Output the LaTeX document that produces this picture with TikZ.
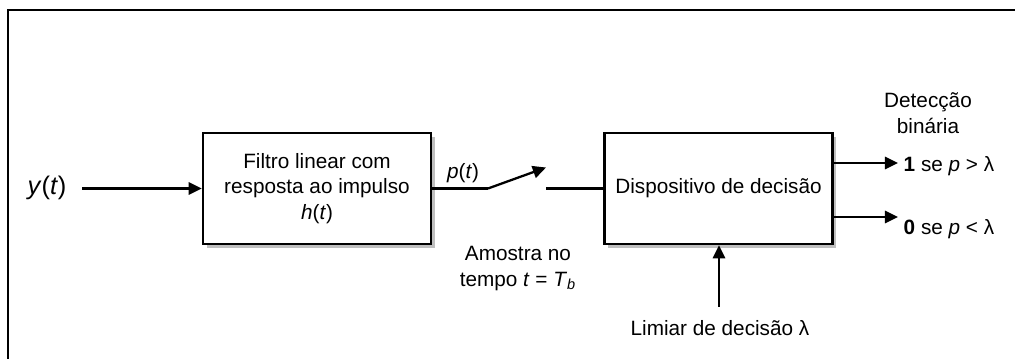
\documentclass[tikz,border=0pt]{standalone}
\usepackage{fontspec}
\setmainfont{Liberation Sans}
\usetikzlibrary{arrows.meta,shadows}

\begin{document}
\begin{tikzpicture}[font=\fontsize{11.8}{14.7}\selectfont,
    bloco/.style={draw,line width=1.3pt,fill=white,align=center,
      minimum width=4.56cm,minimum height=2.22cm,
      drop shadow={shadow xshift=0.07cm,shadow yshift=-0.08cm,opacity=0.5}},
    seta/.style={line width=1.3pt,-{Triangle[length=7.5pt,width=7pt]}},
    linha/.style={line width=1.3pt}]
  \useasboundingbox (0,0) rectangle (20.3,7.16);
  % moldura
  \draw[line width=1.3pt] (0.16,-0.5) -- (0.16,6.96) -- (20.8,6.96);

  \node[bloco] (f) at (6.34,3.39) {Filtro linear com\\resposta ao impulso\\\textit{h}(\textit{t})};
  \node[bloco] (d) at (14.37,3.39) {Dispositivo de decisão};

  \node (y) at (0.94,3.4) {\fontsize{14.5}{16}\selectfont\textit{y}(\textit{t})};
  \coordinate (y0) at (1.64,3.39);
  \draw[seta] (y0) -- (f.west);

  % chave de amostragem
  \coordinate (s1) at (9.76,3.39);
  \coordinate (s2) at (10.92,3.81);
  \coordinate (s3) at (10.92,3.39);
  \draw[linha] (f.east) -- (s1);
  \draw[seta] (s1) -- (s2);
  \draw[linha] (s3) -- (d.west);
  \node (p) at (9.26,3.70) {\textit{p}(\textit{t})};
  \node[align=center] (am) at (10.36,1.79) {Amostra no\\tempo \textit{t} = \textit{T}\textsubscript{\textit{b}}};

  % saidas
  \coordinate (o1) at (17.96,3.9);
  \coordinate (o0) at (17.96,2.82);
  \draw[seta] (o1 -| d.east) -- (o1);
  \draw[seta] (o0 -| d.east) -- (o0);
  \node[anchor=west] (r1) at (17.95,3.84) {\textbf{1} se \textit{p} > λ};
  \node[anchor=west] (r0) at (17.95,2.58) {\textbf{0} se \textit{p} < λ};
  \node[align=center] (det) at (18.56,4.9) {Detecção\\binária};

  % limiar
  \coordinate (l) at (14.38,1.02);
  \draw[seta] (l) -- (l |- d.south);
  \node (lim) at (14.4,0.6) {Limiar de decisão λ};

\end{tikzpicture}
\end{document}
